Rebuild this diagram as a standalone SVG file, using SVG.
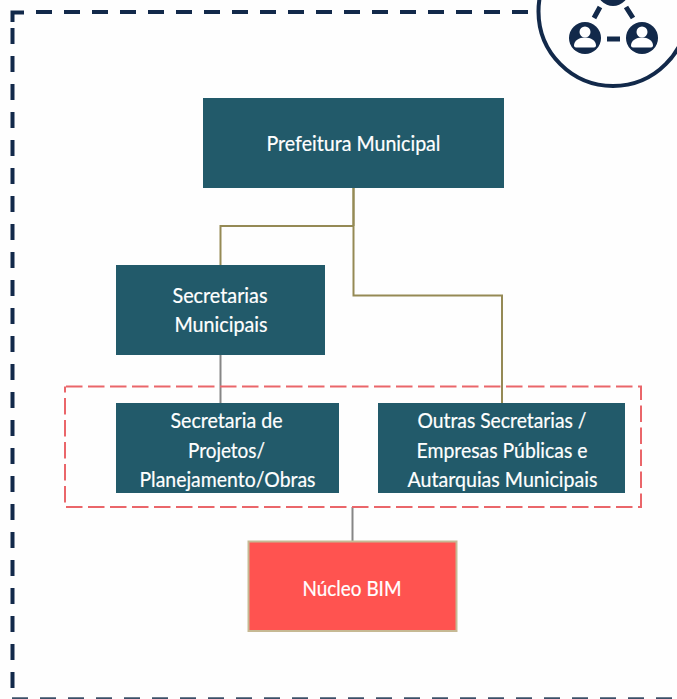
<svg xmlns="http://www.w3.org/2000/svg" width="677" height="699" viewBox="0 0 677 699">
<style>
.bg{fill:#fefefe}
.frame{fill:none;stroke:#12294a;stroke-width:4;stroke-dasharray:16 12}
.box{fill:#225a6a}
.t{font-family:"Lato","Liberation Sans",sans-serif;font-size:21px;fill:#fff;stroke:#fff;stroke-width:.2;text-anchor:middle}
.gold{fill:none;stroke:#958a55;stroke-width:2}
.gray{fill:none;stroke:#868686;stroke-width:2}
.ink{fill:#12294a}
.inkl{fill:none;stroke:#12294a}
</style>
<rect class="bg" width="677" height="699"/>
<g id="frame">
<path class="frame" d="M12.5 22V12.500H24" style="stroke-dasharray:none"/>
<path class="frame" d="M36 12H530"/>
<path class="frame" d="M12.5 28V690"/>
<path class="frame" d="M12 699H677" style="stroke-width:3.5;stroke:#3c5068"/>
</g>
<g id="icon">
<circle cx="613" cy="11.500" r="74.500" stroke="#12294a" stroke-width="4" fill="#fefefe"/>
<circle class="ink" cx="613" cy="-10" r="16"/>
<circle class="ink" cx="585" cy="38" r="16"/>
<circle class="ink" cx="642" cy="38" r="16"/>
<path class="inkl" stroke-width="5" d="M600 7L594 18M626 7L633 18M607 39H620"/>
<circle cx="585" cy="32" r="5.500" fill="#fff"/>
<path fill="#fff" d="M576 47.500q-2 0-2-2c0-5 5-8 11-8s11 3 11 8q0 2-2 2z"/>
<circle cx="642" cy="32" r="5.500" fill="#fff"/>
<path fill="#fff" d="M633 47.500q-2 0-2-2c0-5 5-8 11-8s11 3 11 8q0 2-2 2z"/>
</g>
<g id="connectors">
<path class="gold" d="M353.5 226H220.5V265M353.5 226V295.500H502V403"/>
<path class="gold" d="M353.5 188V226" style="stroke-width:2.500"/>
<path class="gray" d="M220.5 355V403M352.5 507V541"/>
</g>
<g id="group-dashed">
<rect x="65" y="386.500" width="576" height="120.500" fill="none" stroke="#ea666a" stroke-width="2" stroke-dasharray="16.500 5.500" stroke-dashoffset="-1"/>
</g>
<g id="n1"><rect class="box" x="203" y="98" width="301" height="90"/>
<text class="t" x="353.500" y="151" textLength="174" lengthAdjust="spacingAndGlyphs">Prefeitura Municipal</text></g>
<g id="n2"><rect class="box" x="116" y="265" width="209" height="90"/>
<text class="t" x="220" y="303" textLength="95" lengthAdjust="spacingAndGlyphs">Secretarias</text>
<text class="t" x="221" y="332" textLength="93" lengthAdjust="spacingAndGlyphs">Municipais</text></g>
<g id="n3"><rect class="box" x="116" y="403" width="223" height="90"/>
<text class="t" x="226.500" y="428" textLength="112" lengthAdjust="spacingAndGlyphs">Secretaria de</text>
<text class="t" x="226.500" y="457.500" textLength="77" lengthAdjust="spacingAndGlyphs">Projetos/</text>
<text class="t" x="227.500" y="487" textLength="176" lengthAdjust="spacingAndGlyphs">Planejamento/Obras</text></g>
<g id="n4"><rect class="box" x="378" y="403" width="247" height="90"/>
<text class="t" x="502" y="428" textLength="169" lengthAdjust="spacingAndGlyphs">Outras Secretarias /</text>
<text class="t" x="502" y="457.500" textLength="171" lengthAdjust="spacingAndGlyphs">Empresas Públicas e</text>
<text class="t" x="502.500" y="487" textLength="190" lengthAdjust="spacingAndGlyphs">Autarquias Municipais</text></g>
<g id="n5"><rect x="248.500" y="541.500" width="208" height="89.500" fill="#ff5350" stroke="#c6b994" stroke-width="2"/>
<text class="t" x="352" y="596" textLength="99" lengthAdjust="spacingAndGlyphs">Núcleo BIM</text></g>
</svg>
